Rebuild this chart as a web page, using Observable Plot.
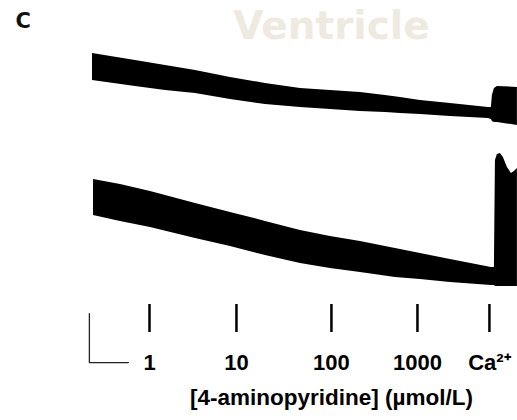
<!DOCTYPE html>
<html>
<head>
<meta charset="utf-8">
<script src="https://cdn.jsdelivr.net/npm/d3@7"></script>
<script src="https://cdn.jsdelivr.net/npm/@observablehq/plot@0.6"></script>
<style>
  html, body { margin: 0; padding: 0; background: #ffffff; }
  #chart { width: 517px; height: 420px; }
</style>
</head>
<body>
<div id="chart"></div>
<script>
// ---- Data (time in minutes, tension in mN) ----
const panelLabel = "C";
const chartTitle = "Ventricle";
const axisTitle = "[4-aminopyridine] (\u00b5mol/L)";

// Upper trace: envelope of contractions (peak and resting tension)
const upperTime = [0, 5.51, 9.36, 13.21, 17.69, 22.18, 26.67, 30.51, 34.36, 37.56, 39.49, 42.05, 45.90, 50.77, 51.15, 51.28, 51.54, 51.92, 54.49];
const upperPeak = [10.24, 9.96, 9.76, 9.55, 9.27, 9.02, 8.82, 8.73, 8.65, 8.53, 8.45, 8.33, 8.20, 8.04, 8.04, 8.53, 8.82, 8.90, 8.86];
const upperRest = [9.14, 8.90, 8.73, 8.61, 8.37, 8.16, 8.04, 7.96, 7.88, 7.84, 7.80, 7.76, 7.67, 7.59, 7.55, 7.47, 7.43, 7.43, 7.31];

// Lower trace
const lowerTime = [0.13, 3.59, 7.44, 13.21, 17.69, 22.18, 26.67, 30.51, 34.36, 38.85, 42.05, 45.90, 51.15, 51.54, 51.67, 51.92, 52.31, 52.69, 53.21, 53.72, 54.10, 54.49];
const lowerPeak = [5.10, 4.90, 4.61, 4.12, 3.76, 3.39, 3.02, 2.78, 2.57, 2.29, 2.08, 1.84, 1.51, 1.51, 5.88, 6.12, 6.16, 6.00, 5.59, 5.35, 5.43, 5.55];
const lowerRest = [3.63, 3.39, 3.14, 2.69, 2.37, 2.00, 1.67, 1.47, 1.31, 1.10, 1.02, 0.90, 0.78, 0.78, 0.73, 0.73, 0.73, 0.73, 0.73, 0.73, 0.73, 0.73];

// Drug additions (time of addition) and their labels
const additionTimes = [7.31, 18.46, 30.64, 41.67, 50.90];
const additionLabels = ["1", "10", "100", "1000", "Ca\u00b2\u207a"];

// Scale bar: 5 min x 2 mN
const scaleBarStart = [-0.4, -2.37];
const scaleBarMinutes = 5;
const scaleBarForce = 2;

// ---- Build tables ----
const upper = upperTime.map((t, i) => ({t, peak: upperPeak[i], rest: upperRest[i]}));
const lower = lowerTime.map((t, i) => ({t, peak: lowerPeak[i], rest: lowerRest[i]}));
const scaleBar = [
  {t: scaleBarStart[0], v: scaleBarStart[1] + scaleBarForce},
  {t: scaleBarStart[0], v: scaleBarStart[1]},
  {t: scaleBarStart[0] + scaleBarMinutes, v: scaleBarStart[1]}
];
const centerTime = additionTimes[2];

const chart = Plot.plot({
  width: 517,
  height: 420,
  marginLeft: 92,
  marginRight: 0,
  marginTop: 10,
  marginBottom: 116,
  style: {background: "#ffffff", color: "#000000", fontFamily: "'Liberation Sans', Arial, sans-serif"},
  x: {domain: [0, 54.5]},
  y: {domain: [0, 12], axis: null},
  marks: [
    Plot.text([chartTitle], {
      x: () => centerTime, text: d => d, frameAnchor: "top", lineAnchor: "top", dy: 1,
      fontFamily: "'DejaVu Sans', sans-serif", fontWeight: "bold", fontSize: 39, fill: "#eeeadf"
    }),
    Plot.text([panelLabel], {
      text: d => d, frameAnchor: "top-left", textAnchor: "start", lineAnchor: "top",
      dx: -77, dy: 3, fontFamily: "'DejaVu Sans', sans-serif", fontWeight: "bold", fontSize: 21, fill: "#111"
    }),
    Plot.areaY(upper, {x: "t", y1: "rest", y2: "peak", fill: "#000", curve: "linear"}),
    Plot.areaY(lower, {x: "t", y1: "rest", y2: "peak", fill: "#000", curve: "linear"}),
    Plot.line(scaleBar, {x: "t", y: "v", stroke: "#222", strokeWidth: 1.3}),
    Plot.axisX({
      anchor: "bottom",
      ticks: additionTimes,
      tickFormat: d => additionLabels[additionTimes.indexOf(d)],
      tickSize: 28,
      tickPadding: 22,
      strokeWidth: 2.5,
      fontSize: 22,
      fontWeight: "bold",
      label: null
    }),
    Plot.text([axisTitle], {
      x: () => centerTime, text: d => d, frameAnchor: "bottom", lineAnchor: "top",
      dy: 85, fontSize: 22.5, fontWeight: "bold", fill: "#000"
    })
  ]
});
document.getElementById("chart").appendChild(chart);
</script>
</body>
</html>
